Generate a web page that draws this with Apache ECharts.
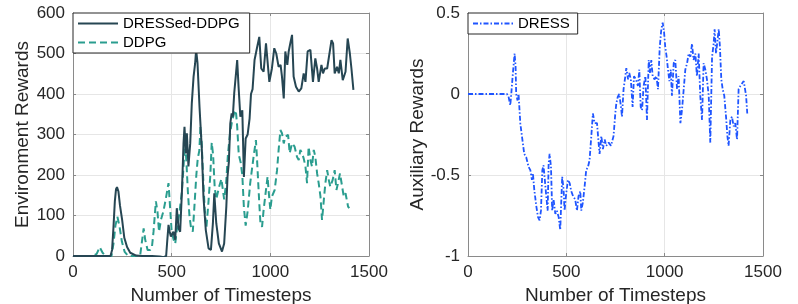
<!DOCTYPE html>
<html>
<head>
<meta charset="utf-8">
<script src="https://cdn.jsdelivr.net/npm/echarts@6/dist/echarts.min.js"></script>
<style>html,body{margin:0;padding:0;background:#fff}#c{width:798px;height:304px}</style>
</head>
<body>
<div id="c"></div>
<script>
var xTicks = [0, 500, 1000, 1500];
var leftYTicks = [0, 100, 200, 300, 400, 500, 600];
var rightYTicks = [-1, -0.5, 0, 0.5];

var dressedT = [0,50,100,150,190,198,205,212,218,223,230,238,249,260,274,290,300,320,350,400,440,460,472,478,484,490,496,503,509,518,526,535,543,552,560,565,572,577,585,594,602,611,619,624,631,641,653,661,673,687,699,709,716,726,739,755,766,777,783,790,797,804,810,817,826,832,839,848,858,866,875,885,895,902,910,920,932,944,954,966,978,995,1008,1020,1030,1042,1052,1059,1068,1076,1086,1093,1101,1110,1118,1130,1144,1157,1169,1178,1189,1203,1216,1228,1237,1245,1259,1267,1276,1288,1296,1310,1318,1326,1338,1347,1355,1367,1381,1392,1403,1411,1421];
var dressedR = [0,0,0,0,0,15,70,135,165,170,160,125,89,45,22,8,5,1,0,0,-1,-3,0,40,77,60,48,55,60,40,118,68,60,159,278,319,253,303,221,278,377,443,476,509,476,369,262,147,64,19,15,81,155,81,31,11,31,122,196,233,327,352,344,402,451,484,418,344,360,195,290,300,340,400,412,484,513,541,463,455,525,430,463,513,500,467,472,443,389,505,472,505,525,546,443,418,406,414,451,430,505,509,430,488,463,430,472,451,463,463,459,533,525,451,467,451,484,434,455,537,500,463,410];

var ddpgT = [0,100,120,135,150,165,195,205,215,225,235,248,262,280,340,348,358,366,378,391,400,408,420,428,436,446,458,470,484,492,500,510,518,525,540,552,560,568,575,582,590,598,607,615,625,632,640,646,652,660,668,676,686,696,703,710,718,726,740,752,766,776,785,795,805,815,825,832,840,850,858,866,875,885,898,915,927,932,937,944,950,958,966,978,986,991,1000,1008,1022,1034,1042,1051,1059,1068,1076,1090,1098,1110,1123,1135,1144,1152,1161,1169,1178,1186,1194,1203,1211,1220,1228,1237,1245,1254,1262,1271,1279,1288,1296,1304,1316,1326,1335,1343,1353,1364,1372,1381,1394,1400];
var ddpgR = [0,0,5,22,8,0,0,30,75,97,75,35,10,0,0,30,68,40,15,15,22,60,135,110,60,90,110,140,180,120,60,40,30,60,110,160,220,290,230,160,100,70,60,120,200,240,260,320,280,190,110,70,130,200,280,250,170,140,170,190,140,180,250,300,330,350,360,320,250,230,200,120,75,110,180,245,286,245,196,130,80,72,114,163,196,163,114,147,163,212,262,311,303,278,295,299,254,278,270,245,237,262,254,241,221,180,270,237,221,262,245,204,180,147,89,138,180,212,188,171,188,212,163,180,204,171,147,155,122,118];

var dressT = [0,100,198,206,215,220,227,232,237,242,245,252,257,266,271,279,286,296,308,317,325,330,337,347,356,364,371,378,384,391,398,405,410,415,422,428,435,444,452,461,469,474,479,486,491,498,508,517,525,534,545,554,562,571,576,584,593,601,610,618,627,635,644,656,664,669,678,686,695,703,715,727,740,749,754,761,769,778,783,791,800,805,814,820,828,837,844,854,864,871,878,885,893,902,910,919,925,932,939,949,958,966,975,983,990,997,1003,1010,1017,1024,1031,1037,1046,1054,1063,1071,1080,1088,1098,1105,1114,1122,1131,1139,1147,1156,1164,1173,1181,1190,1198,1207,1215,1224,1232,1241,1249,1254,1261,1268,1275,1281,1288,1295,1303,1312,1319,1325,1334,1342,1351,1359,1368,1376,1385,1393,1402,1407,1414,1420];
var dressR = [0,0,0,-0.015,-0.07,0,0.11,0.18,0.25,0.17,0,-0.04,0,-0.18,-0.23,-0.24,-0.37,-0.39,-0.45,-0.47,-0.53,-0.49,-0.59,-0.69,-0.76,-0.78,-0.72,-0.47,-0.44,-0.45,-0.63,-0.72,-0.43,-0.37,-0.45,-0.72,-0.65,-0.74,-0.72,-0.76,-0.84,-0.67,-0.51,-0.59,-0.72,-0.63,-0.53,-0.55,-0.60,-0.63,-0.65,-0.72,-0.63,-0.60,-0.72,-0.67,-0.57,-0.47,-0.45,-0.41,-0.26,-0.12,-0.18,-0.18,-0.30,-0.37,-0.26,-0.34,-0.28,-0.32,-0.30,-0.32,-0.26,-0.12,-0.06,-0.02,0,-0.08,-0.14,0.03,0.11,0.16,0.09,0.13,0.09,-0.08,0.11,0.09,0.05,0.15,-0.08,-0.10,0.05,0.11,-0.16,0.21,0.13,0.21,0.11,0.09,0.11,0.03,0.29,0.40,0.44,0.38,0.29,0.23,0.15,0.08,0.15,-0.01,0.19,0.21,0.03,0.11,-0.18,-0.10,-0.10,0.15,0.19,0.25,0.23,0.31,0.21,0.25,0.11,0.25,-0.01,-0.16,0.19,0.15,0.09,-0.01,-0.30,0.23,0.31,0.40,0.25,0.25,0.40,0.29,0.09,0.03,-0.01,-0.14,-0.26,-0.32,-0.16,-0.14,-0.20,-0.18,-0.28,0.03,0.05,0.06,0.08,0.09,-0.01,-0.12];

function pairs(t, v) { return t.map(function (x, i) { return [x, v[i]]; }); }

var FONT = '"Liberation Sans", Arial, Helvetica, sans-serif';
var TXT = '#262626';
var AX = '#8a8a8a';
var GRIDC = '#e6e6e6';

function xAx(g, top) {
  return {
    type: 'value', gridIndex: g, position: top ? 'top' : 'bottom',
    min: xTicks[0], max: xTicks[xTicks.length - 1], interval: 500,
    name: top ? '' : 'Number of Timesteps', nameLocation: 'middle', nameGap: 30,
    nameTextStyle: { fontFamily: FONT, fontSize: 19, color: TXT },
    axisLine: { show: true, onZero: false, lineStyle: { color: AX, width: 1 } },
    axisTick: { show: true, inside: true, length: 3, lineStyle: { color: AX } },
    axisLabel: { show: !top, fontFamily: FONT, fontSize: 17, color: TXT, margin: 8,
      formatter: function (v) { return String(v); } },
    splitLine: { show: !top, lineStyle: { color: GRIDC, width: 1 } }
  };
}
function yAx(g, right, mn, mx, iv, name, gap) {
  return {
    type: 'value', gridIndex: g, position: right ? 'right' : 'left',
    min: mn, max: mx, interval: iv,
    name: right ? '' : name, nameLocation: 'middle', nameGap: gap,
    nameTextStyle: { fontFamily: FONT, fontSize: 19, color: TXT },
    axisLine: { show: true, onZero: false, lineStyle: { color: AX, width: 1 } },
    axisTick: { show: true, inside: true, length: 3, lineStyle: { color: AX } },
    axisLabel: { show: !right, fontFamily: FONT, fontSize: 17, color: TXT, margin: 8,
      formatter: function (v) { return String(v); } },
    splitLine: { show: !right, lineStyle: { color: GRIDC, width: 1 } }
  };
}

var legendItemStyle = { color: 'rgba(0,0,0,0)', borderWidth: 0, opacity: 0 };

var chart = echarts.init(document.getElementById('c'), null, { renderer: 'canvas' });
chart.setOption({
  backgroundColor: '#fff',
  animation: false,
  grid: [
    { left: 73, top: 13, width: 296, height: 243, outerBoundsMode: 'none', containLabel: false },
    { left: 468, top: 13, width: 295, height: 243, outerBoundsMode: 'none', containLabel: false }
  ],
  xAxis: [xAx(0, false), xAx(0, true), xAx(1, false), xAx(1, true)],
  yAxis: [
    yAx(0, false, 0, 600, 100, 'Environment Rewards', 39),
    yAx(0, true, 0, 600, 100, '', 0),
    yAx(1, false, -1, 0.5, 0.5, 'Auxiliary Rewards', 41),
    yAx(1, true, -1, 0.5, 0.5, '', 0)
  ],
  legend: [
    {
      data: ['DRESSed-DDPG', 'DDPG'], orient: 'vertical', left: 73, top: 13,
      itemWidth: 40, itemHeight: 12, itemGap: 4,
      padding: [3, 10, 3, 4], backgroundColor: '#fff',
      borderColor: '#262626', borderWidth: 1,
      itemStyle: legendItemStyle,
      textStyle: { fontFamily: FONT, fontSize: 15, color: '#000' }
    },
    {
      data: ['DRESS'], orient: 'vertical', left: 468, top: 13,
      itemWidth: 40, itemHeight: 12, itemGap: 3,
      padding: [3, 8, 3, 4], backgroundColor: '#fff',
      borderColor: '#262626', borderWidth: 1,
      itemStyle: legendItemStyle,
      textStyle: { fontFamily: FONT, fontSize: 15, color: '#000' }
    }
  ],
  series: [
    {
      name: 'DDPG', type: 'line', xAxisIndex: 0, yAxisIndex: 0,
      data: pairs(ddpgT, ddpgR), showSymbol: false, symbol: 'none',
      lineStyle: { color: '#2a9d8f', width: 2, type: [7, 4] },
      itemStyle: { color: '#2a9d8f' }, z: 2
    },
    {
      name: 'DRESSed-DDPG', type: 'line', xAxisIndex: 0, yAxisIndex: 0,
      data: pairs(dressedT, dressedR), showSymbol: false, symbol: 'none',
      lineStyle: { color: '#264653', width: 2 },
      itemStyle: { color: '#264653' }, z: 3
    },
    {
      name: 'DRESS', type: 'line', xAxisIndex: 2, yAxisIndex: 2,
      data: pairs(dressT, dressR), showSymbol: false, symbol: 'none',
      lineStyle: { color: '#1f55ff', width: 1.8, type: [5, 2, 1.5, 2] },
      itemStyle: { color: '#1f55ff' }, z: 3
    }
  ]
});
</script>
</body>
</html>
